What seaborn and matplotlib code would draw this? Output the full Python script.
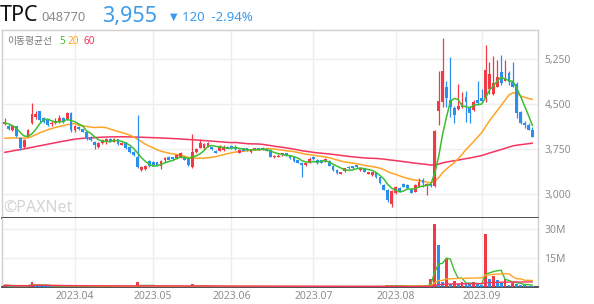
import numpy as np
import pandas as pd
import matplotlib
matplotlib.use("Agg")
import matplotlib.pyplot as plt
import seaborn as sns

# ---------------- data ----------------
start_date = "2023-03-08"
end_date = "2023-09-20"
holidays = ["2023-05-01", "2023-05-05", "2023-05-29", "2023-06-06", "2023-08-15"]

opens = [4170, 4135, 4060, 4130, 3940, 3790, 3960, 4190, 4280, 4380,
         4260, 4230, 4160, 4180, 4200, 4260, 4250, 4350, 4070, 4120,
         4080, 4040, 3950, 3860, 3790, 3850, 3880, 3920, 3870, 3910,
         3820, 3860, 3780, 3700, 3620, 3400, 3420, 3550, 3540, 3530,
         3465, 3560, 3620, 3610, 3600, 3610, 3600, 3580, 3450, 3700,
         3770, 3770, 3800, 3780, 3720, 3720, 3730, 3790, 3800, 3790,
         3690, 3760, 3760, 3700, 3740, 3760, 3770, 3750, 3740, 3620,
         3620, 3650, 3680, 3640, 3610, 3560, 3520, 3480, 3520, 3620,
         3565, 3560, 3540, 3550, 3470, 3400, 3340, 3380, 3450, 3460,
         3480, 3400, 3430, 3340, 3310, 3360, 3280, 3150, 3070, 2830,
         3020, 3095, 3165, 3150, 3080, 3040, 3120, 3235, 3130, 3160,
         3130, 4390, 4540, 4780, 4565, 4430, 4415, 4445, 4620, 4430,
         4400, 4565, 4595, 4595, 4745, 4665, 4790, 5040, 4890, 5010,
         4870, 4835, 4375, 4190, 4150, 4075]
highs = [4265, 4170, 4150, 4140, 3950, 3920, 4080, 4520, 4380, 4390,
         4280, 4250, 4220, 4260, 4320, 4280, 4370, 4360, 4150, 4140,
         4090, 4050, 3960, 3880, 3870, 3920, 3940, 3930, 3930, 3920,
         3870, 3870, 3790, 3720, 4320, 3470, 3490, 3560, 3550, 3540,
         3565, 3610, 3630, 3620, 3660, 3700, 3610, 3590, 4000, 3770,
         3920, 3850, 3870, 3790, 3730, 3820, 3820, 3800, 3810, 3820,
         3750, 3770, 3770, 3750, 3770, 3770, 3780, 3760, 3750, 3650,
         3660, 3690, 3690, 3650, 3620, 3570, 3530, 3530, 3610, 3630,
         3580, 3570, 3600, 3560, 3480, 3410, 3370, 3440, 3460, 3470,
         3490, 3440, 3440, 3370, 3370, 3370, 3290, 3160, 3080, 3060,
         3130, 3110, 3180, 3160, 3090, 3160, 3260, 3265, 3190, 3170,
         4060, 5055, 5595, 4890, 5280, 4460, 4835, 4700, 4720, 4470,
         4560, 4890, 4745, 5485, 5205, 5305, 5230, 5315, 5230, 5050,
         5200, 4860, 4390, 4210, 4190, 4110]
lows = [4150, 4060, 4050, 3950, 3730, 3770, 3950, 4160, 4250, 4200,
        4180, 4130, 4140, 4160, 4190, 4180, 4230, 4040, 4040, 4060,
        4030, 3900, 3880, 3750, 3760, 3830, 3830, 3860, 3860, 3820,
        3810, 3750, 3690, 3640, 3440, 3380, 3400, 3450, 3470, 3470,
        3410, 3540, 3560, 3570, 3590, 3600, 3560, 3460, 3440, 3680,
        3760, 3750, 3790, 3740, 3680, 3710, 3720, 3760, 3750, 3740,
        3680, 3710, 3720, 3690, 3730, 3730, 3730, 3710, 3610, 3600,
        3610, 3640, 3630, 3590, 3540, 3510, 3290, 3470, 3510, 3570,
        3500, 3510, 3530, 3460, 3390, 3340, 3330, 3370, 3420, 3420,
        3440, 3390, 3360, 3330, 3300, 3270, 3170, 3060, 2870, 2780,
        3000, 3030, 3110, 3090, 3010, 3030, 3110, 3120, 2980, 3120,
        3120, 4150, 4445, 4450, 4280, 4185, 4400, 4430, 4205, 4180,
        4390, 4490, 4530, 4540, 4665, 4650, 4780, 4810, 4880, 4810,
        4785, 4260, 4160, 4100, 4060, 3950]
closes = [4195, 4080, 4130, 3960, 3760, 3900, 4060, 4340, 4330, 4230,
          4200, 4150, 4190, 4220, 4270, 4200, 4350, 4070, 4130, 4080,
          4040, 3920, 3900, 3820, 3850, 3900, 3910, 3880, 3920, 3830,
          3850, 3770, 3700, 3650, 3450, 3450, 3470, 3460, 3490, 3490,
          3555, 3600, 3570, 3580, 3650, 3680, 3570, 3480, 3700, 3750,
          3850, 3830, 3850, 3750, 3690, 3800, 3790, 3770, 3760, 3750,
          3735, 3720, 3730, 3740, 3760, 3740, 3740, 3720, 3620, 3640,
          3640, 3680, 3640, 3600, 3550, 3520, 3480, 3520, 3590, 3580,
          3510, 3520, 3580, 3470, 3400, 3350, 3360, 3430, 3430, 3430,
          3450, 3430, 3370, 3360, 3360, 3280, 3180, 3070, 2900, 3050,
          3120, 3040, 3125, 3100, 3020, 3150, 3205, 3180, 3160, 3130,
          4055, 4555, 5055, 4595, 4445, 4315, 4465, 4520, 4540, 4345,
          4540, 4510, 4555, 5065, 5000, 4855, 4955, 4845, 4930, 4870,
          4790, 4345, 4180, 4150, 4075, 3955]
volumes_m = [0.9, 0.7, 0.5, 0.6, 0.8, 0.6, 0.7, 2.4, 1.0, 0.7, 0.5, 0.4, 0.4, 0.5, 0.6, 0.4, 0.7, 0.6,
             0.4, 0.3, 0.3, 0.4, 0.3, 0.4, 0.3, 0.3, 0.3, 0.2, 0.3, 0.3, 0.2, 0.3, 0.3, 0.4, 2.4, 0.6, 0.4, 0.4,
             0.3, 0.3, 0.3, 0.2, 0.2, 0.2, 0.3, 0.3, 0.2, 0.3, 1.4, 0.5, 0.4, 0.3, 0.3, 0.2, 0.2, 0.3, 0.2, 0.2,
             0.2, 0.2, 0.2, 0.2, 0.2, 0.2, 0.2, 0.2, 0.2, 0.2, 0.3, 0.2, 0.2, 0.2, 0.2, 0.2, 0.2, 0.3, 0.3, 0.2,
             0.2, 0.2, 0.2, 0.2, 0.2, 0.2, 0.3, 0.3, 0.2, 0.2, 0.2, 0.2, 0.2, 0.2, 0.2, 0.2, 0.2, 0.3, 0.4, 0.5,
             0.8, 1.0, 0.6, 0.4, 0.4, 0.3, 0.4, 0.6, 0.7, 0.6, 0.8, 3.9,
             32.4, 21.6, 2.5, 14.3, 1.5, 3.3, 1.3, 2.5, 1.7, 1.3, 2.5, 1.3, 1.1, 27.3, 4.2, 5.9, 3.4, 2.5,
             3.9, 1.0, 2.1, 1.5, 1.0, 0.8, 0.7, 0.6]

# moving-average values at the left edge (earlier history not shown)
ma5_head = [4185, 4170, 4140, 4100]
ma20_head = [3930, 3930, 3935, 3935, 3930, 3930, 3940, 3960, 3990, 4020,
             4045, 4070, 4090, 4110, 4125, 4140, 4155, 4165, 4175]
ma60_head = [3695, 3705, 3718, 3730, 3740, 3752, 3765, 3778, 3790, 3805,
             3818, 3830, 3842, 3855, 3868, 3880, 3893, 3905, 3915, 3922,
             3928, 3932, 3936, 3940, 3944, 3947, 3950, 3952, 3953, 3954,
             3954, 3953, 3952, 3950, 3948, 3946, 3944, 3942, 3940, 3937,
             3934, 3931, 3928, 3925, 3921, 3917, 3913, 3909, 3905, 3900,
             3896, 3891, 3886, 3881, 3876, 3871, 3866, 3861, 3856]

price_ticks = [3000, 3750, 4500, 5250]
volume_ticks = [15, 30]

title_name = "TPC"
title_code = "048770"
title_price = "3,955"
title_change = "120  -2.94%"

# ---------------- styling ----------------
sns.set_theme(style="white")
plt.rcParams["font.family"] = ["Noto Sans", "Noto Sans CJK KR", "DejaVu Sans"]

RED = "#f23a47"
BLUE = "#2b8ff0"
MA5_C = "#3cbf2f"
MA20_C = "#ffa526"
MA60_C = "#f4345f"
GRID = "#eeeeee"
TXT = "#8e8e8e"

W, H = 594, 304
fig = plt.figure(figsize=(W / 100, H / 100), dpi=100)
fig.patch.set_facecolor("white")


def box(x0, y0, x1, y1):
    return [x0 / W, 1 - y1 / H, (x1 - x0) / W, (y1 - y0) / H]


axp = fig.add_axes(box(2, 30, 537.5, 217.5))
axv = fig.add_axes(box(2, 217.5, 537.5, 287), sharex=axp)

dates = pd.bdate_range(start_date, end_date, freq="C", holidays=holidays)
n = len(closes)
assert len(dates) == n
idx = np.arange(n)

o = np.array(opens, float)
h = np.array(highs, float)
l = np.array(lows, float)
c = np.array(closes, float)
v = np.array(volumes_m, float)

cs = pd.Series(c)
ma5 = cs.rolling(5).mean().to_numpy()
ma5[:4] = ma5_head
ma20 = cs.rolling(20).mean().to_numpy()
ma20[:19] = ma20_head
ma60 = cs.rolling(60).mean().to_numpy()
ma60[:59] = ma60_head

vs = pd.Series(v)
vma5 = vs.rolling(5, min_periods=1).mean()
vma20 = vs.rolling(20, min_periods=1).mean()
vma60 = vs.rolling(60, min_periods=1).mean()

# month ticks: first trading day of each month
month_pos, month_lab = [], []
for i in range(1, n):
    if dates[i].month != dates[i - 1].month:
        month_pos.append(i)
        month_lab.append(dates[i].strftime("%Y.%m"))

# grids
for ax in (axp, axv):
    ax.set_facecolor("white")
    for mp in month_pos:
        ax.axvline(mp, color=GRID, lw=1, zorder=0)
for t in price_ticks:
    axp.axhline(t, color=GRID, lw=1, zorder=0)
for t in volume_ticks:
    axv.axhline(t, color=GRID, lw=1, zorder=0)

# moving averages (drawn under candles)
ma_df = pd.DataFrame({"idx": idx, "MA60": ma60, "MA20": ma20, "MA5": ma5})
sns.lineplot(data=ma_df, x="idx", y="MA60", ax=axp, color=MA60_C, lw=1.1, zorder=2)
sns.lineplot(data=ma_df, x="idx", y="MA20", ax=axp, color=MA20_C, lw=1.1, zorder=2)

# candles
up = c >= o
col = np.where(up, RED, BLUE)
axp.vlines(idx, l, h, colors=col, lw=0.9, zorder=3)
bottoms = np.minimum(o, c)
heights = np.maximum(np.abs(c - o), 15)
axp.bar(idx, heights, bottom=bottoms, width=0.72, color=col, lw=0, zorder=4)

sns.lineplot(data=ma_df, x="idx", y="MA5", ax=axp, color=MA5_C, lw=1.1, zorder=5)

# volume bars: red when volume rises vs previous day
vol_up = np.concatenate([[True], v[1:] > v[:-1]])
vcol = np.where(vol_up, RED, BLUE)
axv.bar(idx, v, width=0.72, color=vcol, lw=0, zorder=3)
vdf = pd.DataFrame({"idx": idx, "v5": vma5, "v20": vma20, "v60": vma60})
sns.lineplot(data=vdf, x="idx", y="v5", ax=axv, color=MA5_C, lw=1.0, zorder=4)
sns.lineplot(data=vdf, x="idx", y="v20", ax=axv, color=MA20_C, lw=1.0, zorder=4)
sns.lineplot(data=vdf, x="idx", y="v60", ax=axv, color=MA60_C, lw=1.0, zorder=5)

# limits
x0 = (2 - 4.6) / 3.91
x1 = (537.5 - 4.6) / 3.91
axp.set_xlim(x0, x1)
axp.set_ylim(3000 - 23.5 * (750 / 45), 5250 + 29 * (750 / 45))
axv.set_ylim(0, 69.5 / 29 * 15)

# axes styling
for ax in (axp, axv):
    ax.set_xlabel("")
    ax.set_ylabel("")
    ax.yaxis.tick_right()
    ax.tick_params(axis="y", length=0, pad=5, labelsize=7.5, labelcolor=TXT)
    ax.tick_params(axis="x", length=0, pad=3, labelsize=7.5, labelcolor=TXT)
    for s in ("left", "right", "top"):
        ax.spines[s].set_color("#cfcfcf")
        ax.spines[s].set_linewidth(1)
    ax.spines["bottom"].set_color("#333333")
    ax.spines["bottom"].set_linewidth(1.2)
axv.spines["top"].set_visible(False)

axp.set_yticks(price_ticks)
axp.set_yticklabels([f"{t:,}" for t in price_ticks])
axv.set_yticks(volume_ticks)
axv.set_yticklabels([f"{t}M" for t in volume_ticks])
axv.set_xticks(month_pos)
axv.set_xticklabels(month_lab)
plt.setp(axp.get_xticklabels(), visible=False)

# legend text
def ptext(x, y, s, **kw):
    fig.text(x / W, 1 - y / H, s, **kw)

ptext(7, 44, "이동평균선", fontsize=7.0, color="#777777", va="baseline")
ptext(59, 44, "5", fontsize=7.2, color=MA5_C, va="baseline")
ptext(67, 44, "20", fontsize=7.2, color=MA20_C, va="baseline")
ptext(83, 44, "60", fontsize=7.2, color=MA60_C, va="baseline")

# watermark
ptext(3, 212, "©PAXNet", fontsize=11.5, color="#d4d4d4", weight="bold", va="baseline")

# header
ptext(0, 21, title_name, fontsize=15.5, color="#111111", va="baseline")
ptext(41, 21, title_code, fontsize=9.3, color="#8a8a8a", va="baseline")
ptext(102, 22, title_price, fontsize=15.5, color="#3d9be9", va="baseline", weight="medium")
ptext(170, 20, "▼", fontsize=7, color="#3d9be9", va="baseline", family=["DejaVu Sans"])
ptext(182, 21, title_change, fontsize=9.5, color="#3d9be9", va="baseline")

fig.savefig("out.png", dpi=100, facecolor="white")
